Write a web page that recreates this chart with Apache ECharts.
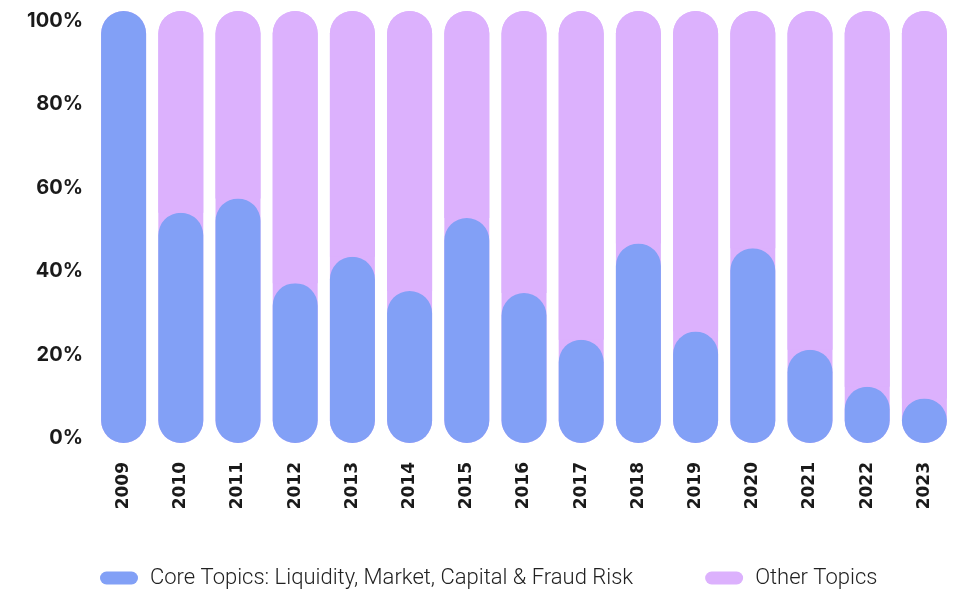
<!DOCTYPE html>
<html>
<head>
<meta charset="utf-8">
<script src="https://cdn.jsdelivr.net/npm/echarts@6/dist/echarts.min.js"></script>
<style>
  html, body { margin: 0; padding: 0; background: #fff; }
  #chart { width: 956px; height: 589px; }
</style>
</head>
<body>
<div id="chart"></div>
<script>
// share of topics per year, in %
const years = ['2009', '2010', '2011', '2012', '2013', '2014', '2015', '2016',
  '2017', '2018', '2019', '2020', '2021', '2022', '2023'];
const coreTopics = [100, 53.3, 56.6, 37.0, 43.1, 35.2, 52.1, 34.7, 23.9, 46.2, 25.8, 45.1, 21.6, 13.0, 10.3];
const otherTopics = [0, 46.7, 43.4, 63.0, 56.9, 64.8, 47.9, 65.3, 76.1, 53.8, 74.2, 54.9, 78.4, 87.0, 89.7];
const yTicks = [0, 20, 40, 60, 80, 100];

const BLUE = '#82A0F6';
const PINK = '#DCB1FD';
const pill = 'path://M6.5,0 H31.5 A6.5,6.5 0 0 1 31.5,13 H6.5 A6.5,6.5 0 0 1 6.5,0 Z';

const chart = echarts.init(document.getElementById('chart'));
chart.setOption({
  animation: false,
  grid: { left: 95, right: 3, top: 11, bottom: 146 },
  legend: {
    top: 562,
    left: 95,
    itemWidth: 38,
    itemHeight: 13,
    itemGap: 72,
    textStyle: {
      fontFamily: 'Roboto',
      fontWeight: 300,
      fontSize: 22,
      color: '#222',
      padding: [0, 0, 0, 7],
    },
    data: [
      { name: 'Core Topics: Liquidity, Market, Capital & Fraud Risk', icon: pill },
      { name: 'Other Topics', icon: pill },
    ],
  },
  xAxis: {
    type: 'category',
    data: years,
    axisLine: { show: false },
    axisTick: { show: false },
    axisLabel: {
      rotate: 90,
      margin: 19,
      fontFamily: 'DejaVu Sans',
      fontWeight: 'bold',
      fontSize: 17,
      color: '#1a1a1a',
    },
  },
  yAxis: [
    {
      // axis the bars are drawn on
      type: 'value',
      min: 0,
      max: 100,
      show: false,
    },
    {
      // axis for the percentage labels
      type: 'value',
      position: 'left',
      min: -1.2,
      max: 102.4,
      axisLine: { show: false },
      axisTick: { show: false },
      splitLine: { show: false },
      axisLabel: {
        customValues: yTicks,
        formatter: '{value}%',
        margin: 12,
        fontFamily: 'Inter',
        fontWeight: 700,
        fontSize: 20,
        color: '#1a1a1a',
      },
    },
  ],
  series: [
    {
      name: 'Core Topics: Liquidity, Market, Capital & Fraud Risk',
      type: 'bar',
      stack: 'share',
      yAxisIndex: 0,
      barWidth: 45,
      data: coreTopics,
      itemStyle: { color: BLUE, borderRadius: 22.5 },
      showBackground: true,
      backgroundStyle: { color: PINK, borderRadius: 22.5 },
    },
    {
      name: 'Other Topics',
      type: 'bar',
      stack: 'share',
      yAxisIndex: 0,
      barWidth: 45,
      data: otherTopics,
      itemStyle: { color: PINK, borderRadius: [22.5, 22.5, 0, 0] },
    },
  ],
});
</script>
</body>
</html>
